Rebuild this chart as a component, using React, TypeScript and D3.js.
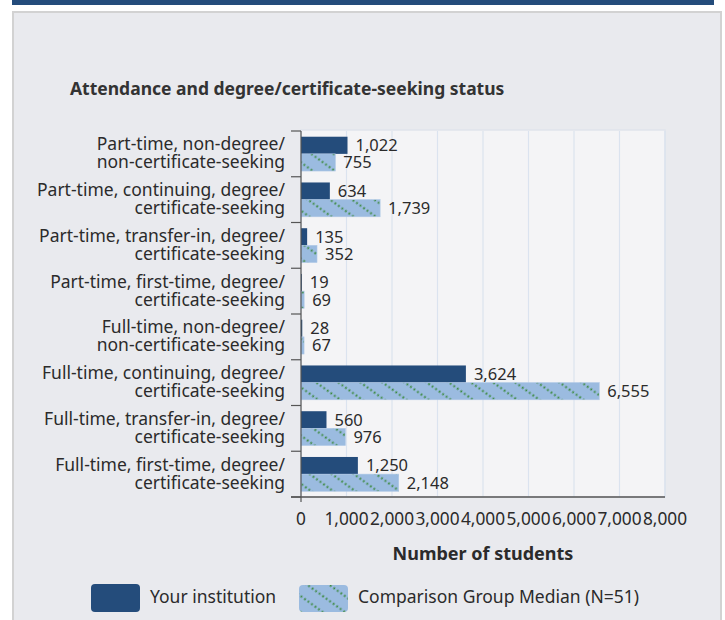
import React from "react";
import * as d3 from "d3";

const categories: string[][] = [
  ["Part-time, non-degree/", "non-certificate-seeking"],
  ["Part-time, continuing, degree/", "certificate-seeking"],
  ["Part-time, transfer-in, degree/", "certificate-seeking"],
  ["Part-time, first-time, degree/", "certificate-seeking"],
  ["Full-time, non-degree/", "non-certificate-seeking"],
  ["Full-time, continuing, degree/", "certificate-seeking"],
  ["Full-time, transfer-in, degree/", "certificate-seeking"],
  ["Full-time, first-time, degree/", "certificate-seeking"],
];
const institution: number[] = [1022, 634, 135, 19, 28, 3624, 560, 1250];
const comparison: number[] = [755, 1739, 352, 69, 67, 6555, 976, 2148];
const xTicks: number[] = [0, 1000, 2000, 3000, 4000, 5000, 6000, 7000, 8000];
const seriesNames: string[] = ["Your institution", "Comparison Group Median (N=51)"];
const chartTitle = "Attendance and degree/certificate-seeking status";
const xTitle = "Number of students";

const W = 725;
const H = 620;
const FONT = "'Noto Sans', 'Liberation Sans', Arial, sans-serif";
const DARK = "#244c7b";
const LIGHT = "#9bbbe0";
const TEXT = "#2b2b2b";

export default function App() {
  const left = 301, right = 665, top = 131, bottom = 497;
  const x = d3.scaleLinear().domain([0, 8000]).range([left, right]);
  const idx = categories.map((_, i) => String(i));
  const y = d3.scaleBand().domain(idx).range([top, bottom]).paddingInner(0.25).paddingOuter(0.125);
  const sub = d3.scaleBand().domain(["0", "1"]).range([0, y.bandwidth()]);
  const step = y.step();
  const fmt = d3.format(",");

  return (
    <svg width={W} height={H} style={{ position: "absolute", left: 0, top: 0 }} fontFamily={FONT}>
      <defs>
        <pattern id="hatch" width="13" height="13" patternUnits="userSpaceOnUse" patternTransform="rotate(36)">
          <rect width="13" height="13" fill={LIGHT} />
          <line x1="0" y1="6.5" x2="13" y2="6.5" stroke="#3c8a40" strokeWidth="1.8" strokeDasharray="1.8 2.5" />
        </pattern>
      </defs>
      {/* top band */}
      <rect x={12} y={0} width={702} height={5} fill={DARK} />
      {/* panel */}
      <rect x={13} y={12} width={708} height={H} fill="#e9eaee" stroke="#d2d2d2" strokeWidth={2} />
      {/* plot background */}
      <rect x={left} y={top - 1} width={right - left} height={bottom - top + 1} fill="#f4f4f6" stroke="#e0e4ec" strokeWidth={1.5} />
      {/* gridlines */}
      {xTicks.slice(1).map((t) => (
        <line key={t} x1={x(t)} x2={x(t)} y1={top} y2={bottom} stroke="#dbe3ef" strokeWidth={1.2} />
      ))}
      {/* title */}
      <text x={70} y={95} fontSize={17.5} fontWeight={700} fill="#333">{chartTitle}</text>
      {/* bars */}
      {categories.map((c, i) => {
        const y0 = y(String(i)) as number;
        return (
          <g key={i}>
            <rect x={x(0)} y={y0 + (sub("0") as number)} width={x(institution[i]) - x(0)} height={sub.bandwidth()} fill={DARK} />
            <rect x={x(0)} y={y0 + (sub("1") as number)} width={x(comparison[i]) - x(0)} height={sub.bandwidth()} fill="url(#hatch)" stroke="#b0c8e6" strokeWidth={0.6} />
            <text x={x(institution[i]) + 8} y={y0 + (sub("0") as number) + sub.bandwidth() / 2} dy="0.36em" fontSize={16.5} fill={TEXT}>{fmt(institution[i])}</text>
            <text x={x(comparison[i]) + 8} y={y0 + (sub("1") as number) + sub.bandwidth() / 2} dy="0.36em" fontSize={16.5} fill={TEXT}>{fmt(comparison[i])}</text>
            <text x={285} y={top + step * i + step / 2 - 3.5} textAnchor="end" fontSize={17.5} fill={TEXT}>{c[0]}</text>
            <text x={285} y={top + step * i + step / 2 + 14.5} textAnchor="end" fontSize={17.5} fill={TEXT}>{c[1]}</text>
          </g>
        );
      })}
      {/* category ticks */}
      {d3.range(categories.length + 1).map((i) => (
        <line key={i} x1={291} x2={left} y1={top + step * i} y2={top + step * i} stroke="#555" strokeWidth={1.2} />
      ))}
      {/* axes */}
      <line x1={left} x2={left} y1={top} y2={bottom + 5} stroke="#555" strokeWidth={1.2} />
      <line x1={291} x2={right} y1={bottom} y2={bottom} stroke="#555" strokeWidth={1.5} />
      {xTicks.map((t) => (
        <text key={t} x={x(t)} y={525} textAnchor="middle" fontSize={17.3} fill={TEXT}>{fmt(t)}</text>
      ))}
      <text x={(left + right) / 2} y={560} textAnchor="middle" fontSize={18} fontWeight={700} fill={TEXT}>{xTitle}</text>
      {/* legend */}
      <rect x={91} y={584} width={49} height={28} rx={4} fill={DARK} />
      <text x={150} y={603} fontSize={17.5} fill={TEXT}>{seriesNames[0]}</text>
      <rect x={299} y={585} width={49} height={27} rx={4} fill="url(#hatch)" />
      <text x={358} y={603} fontSize={17.5} fill={TEXT}>{seriesNames[1]}</text>
    </svg>
  );
}
